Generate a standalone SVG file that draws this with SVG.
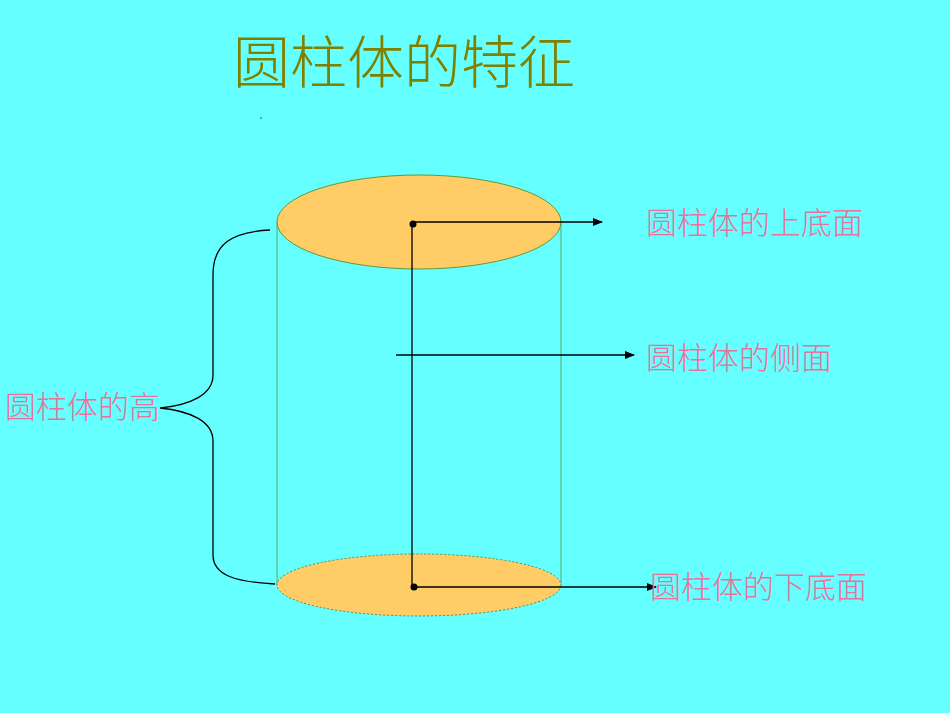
<svg xmlns="http://www.w3.org/2000/svg" width="950" height="713" viewBox="0 0 950 713">
<defs>
<marker id="ah" markerWidth="10" markerHeight="8" refX="9" refY="4" orient="auto" markerUnits="userSpaceOnUse"><path d="M0,0 L10,4 L0,8 z" fill="#000"/></marker>
<style>
.lbl{font-family:"Noto Sans CJK SC","Liberation Serif",serif;font-size:31px;font-weight:300;fill:#E8739A}
.ln{stroke:#000;stroke-width:1.3;fill:none}
</style>
</defs>
<rect width="950" height="713" fill="#66FFFF"/>
<text x="233" y="83" font-family="Noto Sans CJK SC, sans-serif" font-size="57" font-weight="300" fill="#808000">圆柱体的特征</text>
<circle cx="261" cy="118" r="0.8" fill="#444"/>
<g id="cylinder">
<line x1="277" y1="222" x2="277" y2="585" stroke="#55AA66" stroke-width="1"/>
<line x1="561" y1="222" x2="561" y2="585" stroke="#55AA66" stroke-width="1"/>
<ellipse cx="419" cy="585" rx="142" ry="31" fill="#FFCC66" stroke="#558855" stroke-width="1" stroke-dasharray="2,2"/>
<ellipse cx="419" cy="222" rx="142" ry="47" fill="#FFCC66" stroke="#669933" stroke-width="1"/>
</g>
<g id="connectors">
<line class="ln" x1="412" y1="224" x2="412" y2="587"/>
<circle cx="413" cy="224" r="3.5" fill="#000"/>
<circle cx="414" cy="587" r="3.5" fill="#000"/>
<line class="ln" x1="413" y1="222" x2="602" y2="222" marker-end="url(#ah)"/>
<line class="ln" x1="396" y1="355" x2="634" y2="355" marker-end="url(#ah)"/>
<line class="ln" x1="414" y1="587" x2="656" y2="587" marker-end="url(#ah)"/>
<path class="ln" d="M270,230 C230,232 213,245 213,275 L213,375 C213,395 190,405 160,408 C190,411 213,421 213,441 L213,555 C213,575 235,582 275,584"/>
</g>
<g id="labels">
<text class="lbl" x="646" y="234">圆柱体的上底面</text>
<text class="lbl" x="646" y="369">圆柱体的侧面</text>
<text class="lbl" x="650" y="598">圆柱体的下底面</text>
<text class="lbl" x="5" y="418">圆柱体的高</text>
</g>
</svg>
